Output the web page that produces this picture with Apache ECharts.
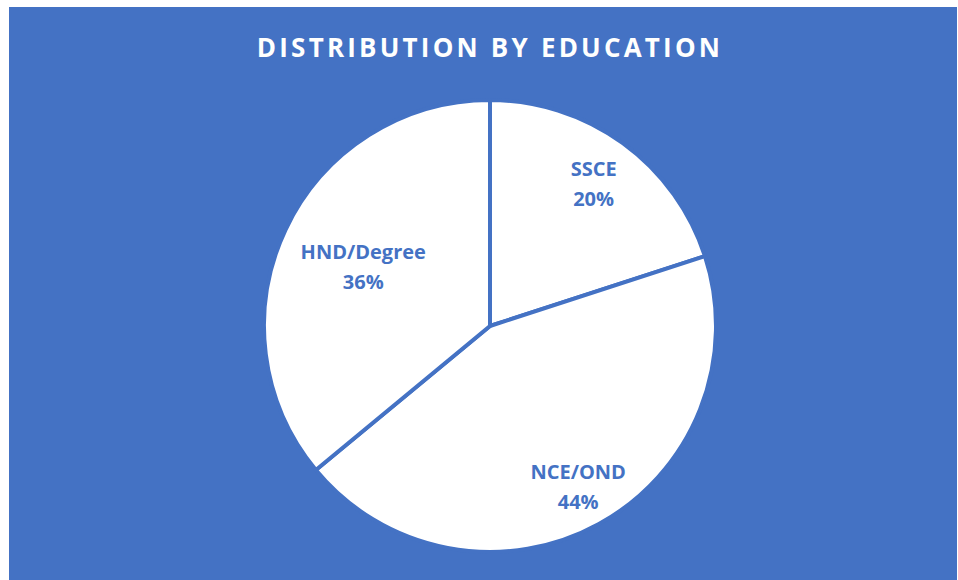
<!DOCTYPE html>
<html>
<head>
<meta charset="utf-8">
<script src="https://cdn.jsdelivr.net/npm/echarts@6/dist/echarts.min.js"></script>
<style>
  html, body { margin: 0; padding: 0; background: #ffffff; }
  #chart { width: 958px; height: 580px; }
  /* spaced-out caps for the heading */
  #chart svg text.heading, #chart svg text[fill="#fffffe"] { letter-spacing: 3.2px; }
</style>
</head>
<body>
<div id="chart"></div>
<script>
// Education levels and their share of respondents (%)
const categories = ['SSCE', 'NCE/OND', 'HND/Degree'];
const shares = [20, 44, 36];
const titleText = 'DISTRIBUTION BY EDUCATION';

// Layout and styling
const BLUE = '#4472C4';
const CX = 490, CY = 326, R = 226;
const labelReach = [0.78, 0.81, 0.62]; // label distance from centre, as a fraction of radius

const total = shares.reduce((a, b) => a + b, 0);
function midAngle(i) {
  let before = 0;
  for (let k = 0; k < i; k++) before += shares[k];
  return (before + shares[i] / 2) / total * Math.PI * 2;
}

const chart = echarts.init(document.getElementById('chart'), null, { renderer: 'svg' });

chart.setOption({
  animation: false,
  backgroundColor: '#ffffff',
  graphic: [
    {
      type: 'rect', z: -10, silent: true,
      shape: { x: 9, y: 7, width: 948, height: 573 },
      style: { fill: BLUE }
    },
    {
      type: 'text', z: 10, silent: true,
      x: 490, y: 47,
      style: {
        text: titleText,
        fill: '#fffffe',
        font: 'bold 26px "Open Sans", sans-serif',
        textAlign: 'center',
        textVerticalAlign: 'middle'
      }
    }
  ],
  series: [{
    type: 'pie',
    center: [CX, CY],
    radius: R,
    startAngle: 90,
    clockwise: true,
    silent: true,
    itemStyle: { color: '#ffffff', borderColor: BLUE, borderWidth: 4 },
    label: {
      show: true,
      position: 'inside',
      formatter: '{b}\n{c}%',
      color: BLUE,
      fontFamily: '"Open Sans", sans-serif',
      fontWeight: 'bold',
      fontSize: 20,
      lineHeight: 30,
      align: 'center'
    },
    labelLine: { show: false },
    labelLayout: function (params) {
      const i = params.dataIndex;
      const a = midAngle(i);
      const r = R * labelReach[i];
      return {
        x: CX + r * Math.sin(a),
        y: CY - r * Math.cos(a),
        align: 'center',
        verticalAlign: 'middle'
      };
    },
    data: categories.map((name, i) => ({ name: name, value: shares[i] }))
  }]
});
</script>
</body>
</html>
